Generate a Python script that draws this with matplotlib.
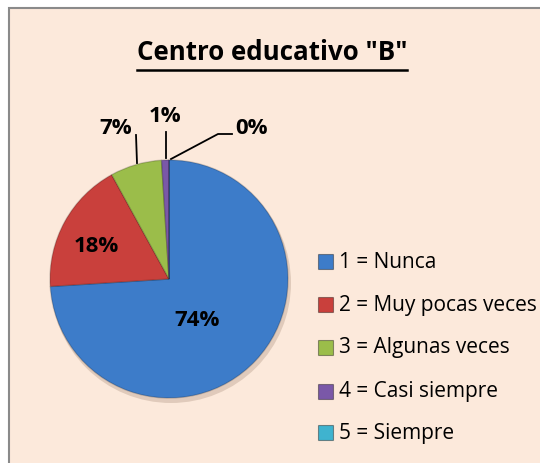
import matplotlib
matplotlib.use("Agg")
import matplotlib.pyplot as plt
from matplotlib.patches import Rectangle, Circle
from matplotlib.lines import Line2D

categories = ["1 = Nunca", "2 = Muy pocas veces", "3 = Algunas veces", "4 = Casi siempre", "5 = Siempre"]
values = [74, 18, 7, 1, 0.001]
pct_labels = ["74%", "18%", "7%", "1%", "0%"]
title = 'Centro educativo "B"'
colors = ["#3D7CC9", "#C9403C", "#9BBD4A", "#7A58A8", "#3FB3CF"]

W, H = 540, 463
fig = plt.figure(figsize=(W / 100, H / 100), dpi=100)
fig.patch.set_facecolor("white")
ax = fig.add_axes([0, 0, 1, 1])

bg = "#FCE9DB"
font = "Open Sans"
cx, cy, r = 169, H - 279, 119

ax.add_patch(Circle((cx + 2, cy - 4), r + 1, facecolor="#D9C3B3", edgecolor="none", zorder=1, alpha=0.8))

wedges, _ = ax.pie(values, colors=colors, startangle=90, counterclock=False,
                   center=(cx, cy), radius=r, frame=True,
                   wedgeprops=dict(edgecolor="#00000030", linewidth=1.0))
for w in wedges:
    w.set_zorder(2)
ax.set_xlim(0, W)
ax.set_ylim(0, H)
ax.set_aspect("equal")
ax.axis("off")
ax.add_patch(Rectangle((9, -20), 600, H - 8 + 20, facecolor=bg, edgecolor="#8A8A8A", lw=1.5, zorder=0))

renderer = fig.canvas.get_renderer()

def fit(txt, target_w, **kw):
    fs = 14
    for _ in range(4):
        t.set_fontsize(fs)
        w = t.get_window_extent(renderer).width
        fs = fs * target_w / w
    t.set_fontsize(fs)
    return fs

lab_kw = dict(ha="center", va="center", fontweight="bold", family=font, zorder=5)
lab_fs = 16
ax.text(197, H - 320, pct_labels[0], fontsize=lab_fs, **lab_kw)
ax.text(96, H - 247, pct_labels[1], fontsize=lab_fs, **lab_kw)
ax.text(116, H - 128, pct_labels[2], fontsize=lab_fs, **lab_kw)
ax.add_line(Line2D([136, 137], [H - 135, H - 163], color="black", lw=1.3, zorder=5))
ax.text(165, H - 117, pct_labels[3], fontsize=lab_fs, **lab_kw)
ax.add_line(Line2D([166, 166], [H - 132, H - 158], color="black", lw=1.3, zorder=5))
ax.text(251, H - 128, pct_labels[4], fontsize=lab_fs, **lab_kw)
ax.add_line(Line2D([232, 218, 171], [H - 134, H - 134, H - 159], color="black", lw=1.3, zorder=5))

# title
t = ax.text(272, H - 52, title, ha="center", va="center", fontweight="bold", family=font, zorder=5)
fit(t, 271)
bb = t.get_window_extent(renderer)
ax.add_line(Line2D([bb.x0, bb.x1], [H - 70, H - 70], color="black", lw=1.8, zorder=5))

# legend
ys = [262, 305, 348, 392, 433]
texts = []
for c, lab, y in zip(colors, categories, ys):
    ax.add_patch(Rectangle((318, H - y - 7), 15, 15, facecolor=c, edgecolor="#00000060", lw=0.8, zorder=5))
    texts.append(ax.text(339, H - y, lab, ha="left", va="center", family=font, zorder=5))
t = texts[1]
fs = fit(t, 198)
for tt in texts:
    tt.set_fontsize(fs)

fig.savefig("out.png", dpi=100, facecolor="white")
